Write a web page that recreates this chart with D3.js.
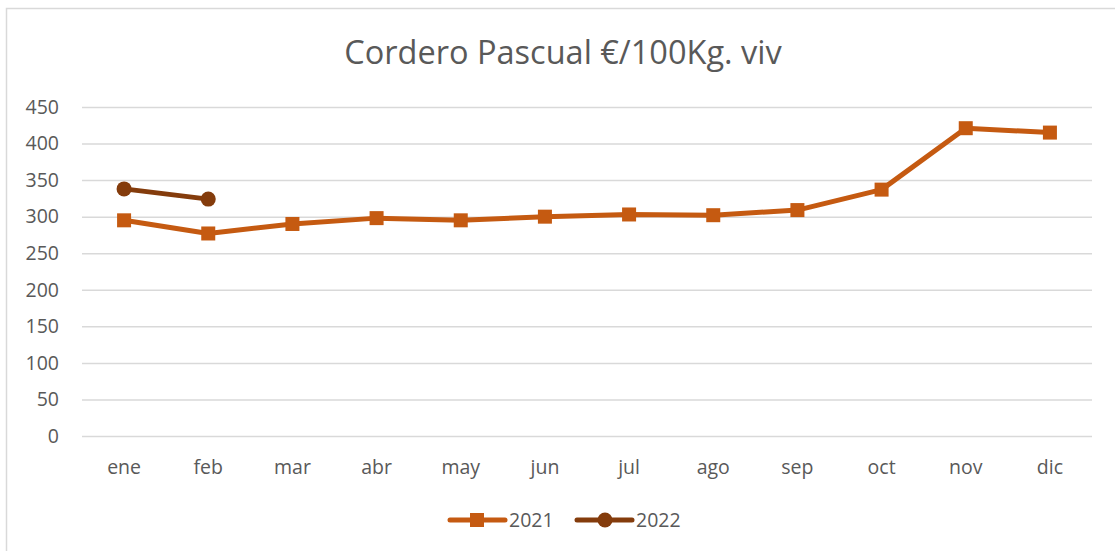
<!DOCTYPE html>
<html>
<head>
<meta charset="utf-8">
<script src="https://cdn.jsdelivr.net/npm/d3@7"></script>
<style>
  body { margin: 0; background: #fff; }
  text { font-family: "Open Sans", "Noto Sans", sans-serif; fill: #595959; }
</style>
</head>
<body>
<svg class="visSVG"></svg>
<script>
const svgWidth = 1115;
const svgHeight = 551;

// data
const months = ["ene", "feb", "mar", "abr", "may", "jun", "jul", "ago", "sep", "oct", "nov", "dic"];
const values2021 = [295, 277, 290, 298, 295, 300, 303, 302, 309, 337, 421, 415];
const values2022 = [338, 324];
const yTicks = [0, 50, 100, 150, 200, 250, 300, 350, 400, 450];
const seriesNames = ["2021", "2022"];
const seriesColors = ["#C55A11", "#843C0C"];

const svg = d3.select('.visSVG')
    .attr("width", svgWidth)
    .attr("height", svgHeight);

var margin = { top: 107, right: 23, left: 82, bottom: 115 };
var innerWidth = svgWidth - margin.left - margin.right;
var innerHeight = svgHeight - margin.top - margin.bottom;

// chart border
svg.append("rect")
    .attr("x", 6.5).attr("y", 8.5)
    .attr("width", 1120).attr("height", 560)
    .attr("fill", "none")
    .attr("stroke", "#D9D9D9")
    .attr("stroke-width", 1.5);

// title
svg.append("text")
    .attr("x", 563).attr("y", 64)
    .attr("text-anchor", "middle")
    .style("font-size", "32.5px")
    .text("Cordero Pascual €/100Kg. viv");

const graph = svg.append("g")
    .attr("transform", "translate(" + margin.left + "," + margin.top + ")");

const yScale = d3.scaleLinear()
    .domain([0, 450])
    .range([innerHeight, 0]);

const xScale = d3.scaleBand()
    .domain(months)
    .range([0, innerWidth]);

// gridlines + y labels
const yAxis = graph.append("g")
    .call(d3.axisLeft(yScale).tickValues(yTicks).tickSize(-innerWidth).tickPadding(23));
yAxis.select(".domain").remove();
yAxis.selectAll(".tick line").attr("stroke", "#D9D9D9").attr("stroke-width", 1.5);
yAxis.selectAll(".tick text").style("font-size", "19.5px").attr("fill", "#595959");

// x labels
const xAxis = graph.append("g")
    .attr("transform", "translate(0," + innerHeight + ")")
    .call(d3.axisBottom(xScale).tickSize(0).tickPadding(24));
xAxis.select(".domain").remove();
xAxis.selectAll(".tick text").style("font-size", "19.5px").attr("fill", "#595959");

const xPos = function(d, i) { return xScale(months[i]) + xScale.bandwidth() / 2; };
const line = d3.line().x(xPos).y(function(d) { return yScale(d); });

// 2021
graph.append("path")
    .datum(values2021)
    .attr("d", line)
    .attr("fill", "none")
    .attr("stroke", seriesColors[0])
    .attr("stroke-width", 5)
    .attr("stroke-linejoin", "round")
    .attr("stroke-linecap", "round");
graph.append("g").selectAll("rect")
    .data(values2021).enter().append("rect")
    .attr("x", function(d, i) { return xPos(d, i) - 7; })
    .attr("y", function(d) { return yScale(d) - 7; })
    .attr("width", 14).attr("height", 14)
    .attr("fill", seriesColors[0]);

// 2022
graph.append("path")
    .datum(values2022)
    .attr("d", line)
    .attr("fill", "none")
    .attr("stroke", seriesColors[1])
    .attr("stroke-width", 5)
    .attr("stroke-linecap", "round");
graph.append("g").selectAll("circle")
    .data(values2022).enter().append("circle")
    .attr("cx", xPos)
    .attr("cy", function(d) { return yScale(d); })
    .attr("r", 7.5)
    .attr("fill", seriesColors[1]);

// legend
var legendX = [450, 577];
seriesNames.forEach(function(name, i) {
    var lg = svg.append("g").attr("transform", "translate(" + legendX[i] + ",520)");
    lg.append("line")
        .attr("x1", 0).attr("x2", 55)
        .attr("stroke", seriesColors[i])
        .attr("stroke-width", 5)
        .attr("stroke-linecap", "round");
    if (i == 0) {
        lg.append("rect").attr("x", 20).attr("y", -7).attr("width", 14).attr("height", 14).attr("fill", seriesColors[i]);
    } else {
        lg.append("circle").attr("cx", 28).attr("cy", 0).attr("r", 7.5).attr("fill", seriesColors[i]);
    }
    lg.append("text")
        .attr("x", 59).attr("y", 7)
        .style("font-size", "19.5px")
        .text(name);
});
</script>
</body>
</html>
